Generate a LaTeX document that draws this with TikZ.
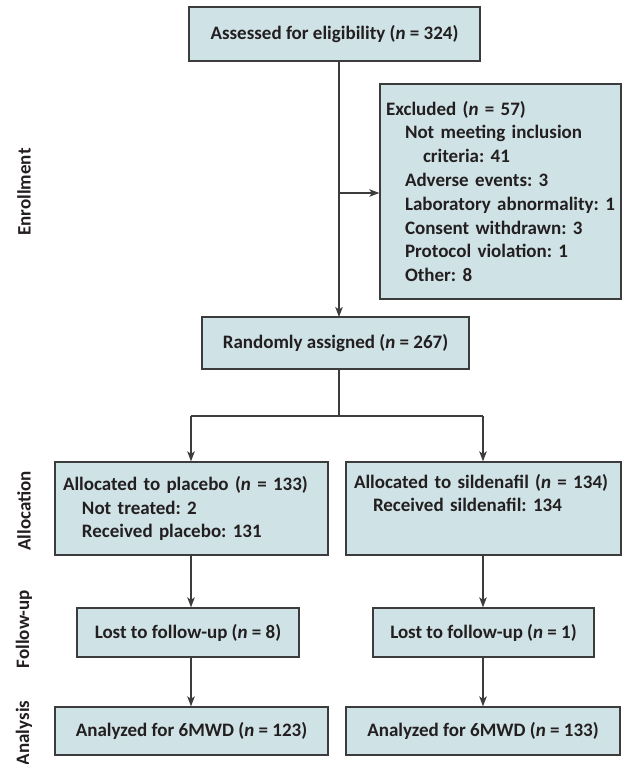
\documentclass[tikz,border=0pt]{standalone}
\usepackage{fontspec}
\setmainfont{Carlito}
\frenchspacing
\usetikzlibrary{arrows.meta}
\definecolor{boxfill}{HTML}{CFE2E5}
\definecolor{boxline}{HTML}{3C3C3C}
\definecolor{txt}{HTML}{231F20}
\begin{document}
\begin{tikzpicture}[x=1pt,y=-1pt,
  font=\fontsize{19}{23.8}\selectfont\bfseries,
  box/.style={draw=boxline, fill=boxfill, line width=1.3pt, text=txt, inner sep=0pt, anchor=center},
  listbox/.style={box, align=left, inner xsep=6pt},
  conn/.style={draw=boxline, line width=1.2pt},
  arr/.style={conn, -{Stealth[length=10pt,width=7.5pt,inset=2.5pt]}},
  side/.style={rotate=90, text=txt, anchor=center}
]
\useasboundingbox (0,0) rectangle (628,764);

% boxes
\node[box, minimum width=291pt, minimum height=54pt] (assess) at (334.5,34) {Assessed for eligibility (\textit{n} = 324)};
\node[listbox, minimum width=241pt, minimum height=215pt, text width=229pt] (excl) at (500.5,191.5)
  {Excluded (\textit{n} = 57)\\
   \hspace*{19pt}Not meeting inclusion\\
   \hspace*{37pt}criteria: 41\\
   \hspace*{19pt}Adverse events: 3\\
   \hspace*{19pt}\makebox[200pt][l]{Laboratory abnormality: 1}\\
   \hspace*{19pt}Consent withdrawn: 3\\
   \hspace*{19pt}Protocol violation: 1\\
   \hspace*{19pt}Other: 8};
\node[box, minimum width=267pt, minimum height=52pt] (rand) at (335.5,343) {Randomly assigned (\textit{n} = 267)};

\node[listbox, minimum width=273pt, minimum height=93pt, text width=257pt, inner xsep=8pt] (allocP) at (191.5,508.5)
  {Allocated to placebo (\textit{n} = 133)\\
   \hspace*{19pt}Not treated: 2\\
   \hspace*{19pt}Received placebo: 131};
\node[listbox, minimum width=275pt, minimum height=93pt, text width=259pt, inner xsep=8pt] (allocS) at (483.5,508.5)
  {Allocated to sildenafil (\textit{n} = 134)\\
   \hspace*{19pt}Received sildenafil: 134\\
   \strut};

\node[box, minimum width=222pt, minimum height=49pt] (lostP) at (188,632.5) {Lost to follow-up (\textit{n} = 8)};
\node[box, minimum width=221pt, minimum height=49pt] (lostS) at (483.5,632.5) {Lost to follow-up (\textit{n} = 1)};

\node[box, minimum width=273pt, minimum height=48pt] (anaP) at (191.5,731) {Analyzed for 6MWD (\textit{n} = 123)};
\node[box, minimum width=274pt, minimum height=48pt] (anaS) at (483,731) {Analyzed for 6MWD (\textit{n} = 133)};

% side labels
\node[side] (lenr) at (24,192) {Enrollment};
\node[side] (lall) at (24,511) {Allocation};
\node[side] (lfol) at (24,629) {Follow-up};
\node[side] (lana) at (24,733) {Analysis};

% connectors
\coordinate (top) at (339,61);
\coordinate (mid) at (339,193);
\coordinate (split) at (339,416);
\coordinate (splitL) at (191,416);
\coordinate (splitR) at (483,416);
\draw[arr] (top) -- (339,317);
\draw[arr] (mid) -- (excl.west |- mid);
\draw[conn] (339,369) -- (split);
\draw[conn] (splitL) -- (splitR);
\draw[arr] (splitL) -- (splitL |- allocP.north);
\draw[arr] (splitR) -- (splitR |- allocS.north);
\draw[arr] (allocP.south -| splitL) -- (splitL |- lostP.north);
\draw[arr] (allocS.south -| splitR) -- (splitR |- lostS.north);
\draw[arr] (lostP.south -| splitL) -- (splitL |- anaP.north);
\draw[arr] (lostS.south -| splitR) -- (splitR |- anaS.north);
\end{tikzpicture}
\end{document}
